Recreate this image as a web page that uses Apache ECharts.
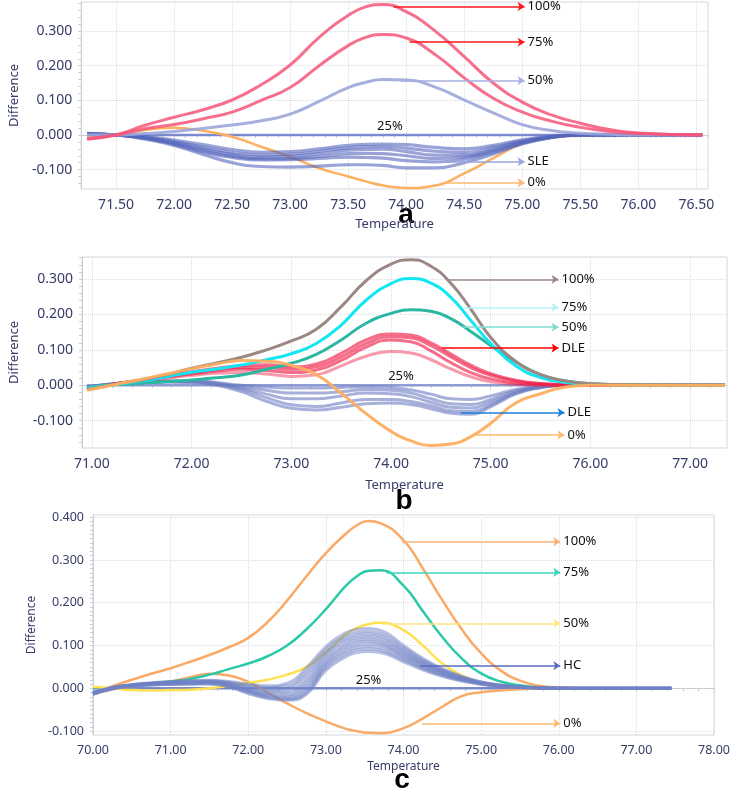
<!DOCTYPE html>
<html><head><meta charset="utf-8">
<script src="https://cdn.jsdelivr.net/npm/echarts@6/dist/echarts.min.js"></script>
<style>html,body{margin:0;padding:0;background:#fff}#c{width:733px;height:792px}</style>
</head><body><div id="c"></div>
<script>
// ---------- Panel a ----------
const A_X = [71.25,71.5,71.75,72.0,72.25,72.5,72.75,73.0,73.25,73.5,73.65,73.8,74.0,74.25,74.5,74.75,75.0,75.25,75.5,75.75,76.0,76.55];
const A_100 = [-0.012,0,0.028,0.051,0.073,0.101,0.145,0.202,0.282,0.345,0.37,0.377,0.356,0.3,0.226,0.15,0.095,0.058,0.034,0.016,0.006,0];
const A_75 = [-0.01,0,0.018,0.03,0.047,0.066,0.1,0.137,0.2,0.258,0.282,0.29,0.28,0.232,0.165,0.106,0.066,0.04,0.022,0.01,0.004,0];
const A_50 = [0,0,0.004,0.01,0.019,0.029,0.041,0.06,0.097,0.137,0.152,0.16,0.159,0.138,0.101,0.064,0.03,0.013,0.005,0.002,0,0];
const A_25 = [0,0,0,0,0,0,0,0,0,0,0,0,0,0,0,0,0,0,0,0,0,0];
const A_0 = [-0.008,0,0.014,0.021,0.012,-0.005,-0.034,-0.063,-0.096,-0.12,-0.134,-0.146,-0.153,-0.146,-0.111,-0.067,-0.025,-0.008,-0.002,0,0,0];
const A_SLE1 = [0.002,0,-0.005,-0.015,-0.028,-0.042,-0.05,-0.048,-0.04,-0.03,-0.027,-0.026,-0.028,-0.036,-0.04,-0.03,-0.014,-0.004,0,0,0,0];
const A_SLE2 = [0.002,0,-0.006,-0.019,-0.035,-0.05,-0.058,-0.056,-0.047,-0.037,-0.034,-0.033,-0.038,-0.047,-0.05,-0.036,-0.017,-0.005,0,0,0,0];
const A_SLE3 = [0.003,0,-0.008,-0.022,-0.04,-0.056,-0.064,-0.062,-0.054,-0.044,-0.042,-0.041,-0.048,-0.058,-0.058,-0.042,-0.02,-0.006,0,0,0,0];
const A_SLE4 = [0.003,0,-0.009,-0.025,-0.045,-0.061,-0.069,-0.068,-0.062,-0.054,-0.053,-0.054,-0.06,-0.068,-0.064,-0.046,-0.022,-0.006,0,0,0,0];
const A_SLE5 = [0.004,0,-0.01,-0.027,-0.049,-0.065,-0.072,-0.071,-0.068,-0.064,-0.065,-0.067,-0.074,-0.078,-0.07,-0.05,-0.024,-0.007,0,0,0,0];
const A_SLE6 = [0.005,0,-0.012,-0.03,-0.056,-0.08,-0.091,-0.093,-0.09,-0.086,-0.086,-0.088,-0.095,-0.095,-0.08,-0.055,-0.026,-0.008,0,0,0,0];
const A_XTICKS = [71.5,72.0,72.5,73.0,73.5,74.0,74.5,75.0,75.5,76.0,76.5];
const A_YTICKS = [-0.1,0,0.1,0.2,0.3];

// ---------- Panel b ----------
const B_X = [70.95,71.25,71.5,71.75,72.0,72.25,72.5,72.75,73.0,73.25,73.5,73.75,74.0,74.2,74.4,74.6,74.8,75.0,75.25,75.5,75.75,76.0,76.5,77.35];
const B_100 = [-0.012,0.004,0.015,0.03,0.048,0.063,0.079,0.1,0.125,0.158,0.222,0.295,0.342,0.354,0.336,0.288,0.215,0.135,0.068,0.03,0.012,0.004,0.001,0];
const B_75 = [-0.008,0.003,0.012,0.024,0.037,0.046,0.057,0.072,0.089,0.118,0.17,0.24,0.287,0.301,0.288,0.248,0.183,0.118,0.055,0.022,0.008,0.003,0,0];
const B_50 = [-0.006,0.002,0.006,0.01,0.015,0.021,0.029,0.045,0.062,0.087,0.128,0.175,0.203,0.213,0.209,0.188,0.152,0.112,0.066,0.03,0.012,0.004,0.001,0];
const B_25 = [0,0,0,0,0,0,0,0,0,0,0,0,0,0,0,0,0,0,0,0,0,0,0,0];
const B_0 = [-0.014,0.003,0.017,0.032,0.047,0.06,0.07,0.068,0.056,0.03,-0.022,-0.08,-0.13,-0.157,-0.17,-0.166,-0.145,-0.107,-0.05,-0.024,-0.005,0,0,0];
const B_DLER1 = [-0.012,0.005,0.015,0.027,0.038,0.048,0.056,0.058,0.052,0.06,0.09,0.128,0.145,0.142,0.12,0.088,0.057,0.033,0.014,0.005,0.002,0,0,0];
const B_DLER2 = [-0.012,0.005,0.014,0.025,0.035,0.044,0.05,0.05,0.045,0.052,0.08,0.118,0.137,0.134,0.112,0.08,0.05,0.028,0.012,0.004,0.001,0,0,0];
const B_DLER3 = [-0.012,0.004,0.013,0.023,0.032,0.04,0.045,0.042,0.036,0.043,0.07,0.108,0.128,0.123,0.097,0.064,0.036,0.018,0.006,0.002,0,0,0,0];
const B_DLER4 = [-0.01,0.004,0.012,0.02,0.028,0.034,0.036,0.032,0.025,0.03,0.055,0.082,0.095,0.091,0.072,0.046,0.024,0.01,0.003,0,0,0,0,0];
const B_DLEB1 = [-0.005,0.005,0.01,0.012,0.012,0.008,0,-0.005,-0.008,-0.008,-0.006,-0.004,-0.006,-0.013,-0.025,-0.038,-0.04,-0.03,-0.012,-0.003,0,0,0,0];
const B_DLEB2 = [-0.005,0.005,0.01,0.012,0.012,0.006,-0.004,-0.014,-0.022,-0.022,-0.018,-0.012,-0.014,-0.022,-0.038,-0.052,-0.054,-0.04,-0.016,-0.004,0,0,0,0];
const B_DLEB3 = [-0.005,0.005,0.01,0.011,0.01,0.004,-0.008,-0.025,-0.038,-0.038,-0.03,-0.022,-0.024,-0.032,-0.048,-0.062,-0.064,-0.048,-0.02,-0.005,0,0,0,0];
const B_DLEB4 = [-0.006,0.004,0.009,0.01,0.009,0.002,-0.012,-0.035,-0.055,-0.06,-0.05,-0.04,-0.04,-0.046,-0.058,-0.072,-0.074,-0.055,-0.022,-0.006,0,0,0,0];
const B_DLEB5 = [-0.006,0.004,0.008,0.009,0.008,0,-0.018,-0.045,-0.065,-0.07,-0.062,-0.052,-0.05,-0.054,-0.066,-0.079,-0.082,-0.06,-0.025,-0.007,0,0,0,0];
const B_XTICKS = [71,72,73,74,75,76,77];
const B_YTICKS = [-0.1,0,0.1,0.2,0.3];

// ---------- Panel c ----------
const C_X = [70.0,70.25,70.5,70.75,71.0,71.25,71.5,71.75,72.0,72.25,72.5,72.75,73.0,73.25,73.4,73.55,73.7,74.0,74.25,74.5,74.75,75.0,75.25,75.5,75.75,76.0,76.5,77.45];
const C_100 = [-0.012,0.005,0.02,0.034,0.047,0.062,0.078,0.096,0.118,0.155,0.205,0.262,0.316,0.36,0.381,0.391,0.386,0.346,0.28,0.206,0.138,0.082,0.042,0.018,0.006,0.002,0,0];
const C_75 = [-0.008,0.002,0.008,0.012,0.016,0.022,0.032,0.045,0.058,0.075,0.1,0.138,0.185,0.238,0.262,0.275,0.276,0.24,0.18,0.12,0.07,0.035,0.016,0.007,0.002,0,0,0];
const C_50 = [0.004,0,-0.004,-0.005,-0.004,-0.003,0,0.006,0.013,0.02,0.032,0.05,0.085,0.125,0.141,0.15,0.153,0.136,0.1,0.058,0.03,0.012,0.005,0.002,0,0,0,0];
const C_25 = [0,0,0,0,0,0,0,0,0,0,0,0,0,0,0,0,0,0,0,0,0,0,0,0,0,0,0,0];
const C_0 = [-0.014,-0.002,0.005,0.01,0.016,0.026,0.034,0.03,0.015,-0.01,-0.035,-0.058,-0.077,-0.094,-0.1,-0.104,-0.105,-0.093,-0.07,-0.043,-0.018,-0.009,-0.005,-0.002,0,0,0,0];
const C_HC1 = [-0.010,0.002,0.009,0.013,0.016,0.018,0.019,0.016,0.010,0.006,0.012,0.048,0.097,0.129,0.138,0.140,0.136,0.100,0.070,0.046,0.028,0.015,0.008,0.0035,0.0014,0.0006,0,0];
const C_HC2 = [-0.010,0.002,0.008,0.012,0.015,0.017,0.018,0.014,0.007,0.002,0.006,0.040,0.090,0.122,0.131,0.133,0.129,0.095,0.066,0.044,0.027,0.015,0.007,0.003,0.001,0,0,0];
const C_HC3 = [-0.011,0.001,0.008,0.012,0.014,0.016,0.017,0.013,0.004,-0.003,0.000,0.032,0.083,0.116,0.125,0.127,0.123,0.090,0.063,0.042,0.025,0.014,0.007,0.003,0.001,0,0,0];
const C_HC4 = [-0.011,0.001,0.007,0.011,0.013,0.015,0.016,0.011,0.001,-0.007,-0.006,0.023,0.077,0.110,0.119,0.121,0.117,0.086,0.060,0.040,0.024,0.013,0.006,0.003,0.001,0,0,0];
const C_HC5 = [-0.012,0.001,0.007,0.010,0.012,0.014,0.015,0.010,-0.002,-0.011,-0.011,0.015,0.070,0.103,0.113,0.115,0.111,0.082,0.057,0.038,0.023,0.012,0.006,0.003,0.001,0,0,0];
const C_HC6 = [-0.012,0.000,0.006,0.010,0.012,0.013,0.014,0.008,-0.004,-0.014,-0.016,0.008,0.064,0.097,0.108,0.110,0.106,0.078,0.055,0.036,0.022,0.012,0.006,0.002,0.001,0,0,0];
const C_HC7 = [-0.013,0.000,0.006,0.009,0.011,0.012,0.013,0.007,-0.006,-0.017,-0.020,0.001,0.058,0.091,0.102,0.104,0.101,0.074,0.052,0.034,0.021,0.011,0.005,0.002,0.001,0,0,0];
const C_HC8 = [-0.013,-0.001,0.005,0.009,0.010,0.011,0.012,0.005,-0.008,-0.019,-0.023,-0.005,0.053,0.085,0.096,0.098,0.095,0.070,0.049,0.032,0.020,0.011,0.005,0.002,0.001,0,0,0];
const C_HC9 = [-0.014,-0.001,0.005,0.008,0.009,0.010,0.011,0.004,-0.010,-0.022,-0.026,-0.010,0.048,0.079,0.090,0.092,0.089,0.066,0.046,0.030,0.018,0.010,0.005,0.002,0.001,0,0,0];
const C_HC10 = [-0.014,-0.001,0.004,0.008,0.009,0.010,0.010,0.003,-0.012,-0.024,-0.028,-0.014,0.042,0.073,0.084,0.086,0.084,0.062,0.043,0.028,0.017,0.009,0.004,0.002,0.001,0,0,0];
const C_XTICKS = [70,71,72,73,74,75,76,77,78];
const C_YTICKS = [-0.1,0,0.1,0.2,0.3,0.4];

// ---------- styling / layout ----------
const FONT = 'Noto Sans';
const NAVY = '#363c68';
const AXC = '#c9cdd5';
const GRIDC = '#d9dde4';

function pts(xs, ys){ return xs.map((x,i)=>[x, ys[i]]); }
function steps(a,b,s){ const r=[]; const n=Math.floor((b-a)/s+1e-9); for(let i=0;i<=n;i++) r.push(Math.round((a+i*s)*1000)/1000); return r; }

const grids = [
  {left:73, top:2, width:635, height:187},
  {left:78, top:257, width:649, height:191},
  {left:93, top:515, width:621, height:220}
].map(g=>Object.assign(g,{show:true, borderColor:'#d3d7de', borderWidth:1, backgroundColor:'transparent'}));

const P = [
  {xmin:71.2, xmax:76.6, ymin:-0.156, ymax:0.384, xt:A_XTICKS, yt:A_YTICKS, fs:14, nfs:13, ygap:58, xgap:29, xminor:0.1, yminor:0.02},
  {xmin:70.9, xmax:77.37, ymin:-0.177, ymax:0.362, xt:B_XTICKS, yt:B_YTICKS, fs:14, nfs:13, ygap:61, xgap:31, xminor:0.2, yminor:0.02},
  {xmin:70, xmax:78, ymin:-0.109, ymax:0.405, xt:C_XTICKS, yt:C_YTICKS, fs:12.5, nfs:12, ygap:51, xgap:26, xminor:0.2, yminor:0.01}
];

const xAxes = [], yAxes = [];
P.forEach((p,gi)=>{
  xAxes.push({type:'value', gridIndex:gi, min:p.xmin, max:p.xmax,
    name:'Temperature', nameLocation:'middle', nameGap:p.xgap,
    nameTextStyle:{fontSize:p.nfs, color:NAVY, fontFamily:FONT},
    axisLine:{show:true, lineStyle:{color:AXC}},
    axisTick:{show:true, length:3, customValues:p.xt, lineStyle:{color:AXC}},
    axisLabel:{customValues:p.xt, formatter:v=>Number(v).toFixed(2), fontSize:p.fs, color:NAVY, margin:9, fontFamily:FONT},
    splitLine:{show:true, lineStyle:{color:GRIDC, type:'dotted', width:1}}});
  yAxes.push({type:'value', gridIndex:gi, min:p.ymin, max:p.ymax,
    name:'Difference', nameLocation:'middle', nameGap:p.ygap, nameRotate:90,
    nameTextStyle:{fontSize:p.nfs, color:NAVY, fontFamily:FONT},
    axisLine:{show:true, lineStyle:{color:AXC}},
    axisTick:{show:true, length:3, customValues:p.yt, lineStyle:{color:AXC}},
    axisLabel:{customValues:p.yt, formatter:v=>Number(v).toFixed(3), fontSize:p.fs, color:NAVY, margin:9, fontFamily:FONT},
    splitLine:{show:true, lineStyle:{color:GRIDC, type:'dotted', width:1}}});
});
P.forEach((p,gi)=>{
  xAxes.push({type:'value', gridIndex:gi, min:p.xmin, max:p.xmax, position:'bottom',
    axisLine:{show:false}, axisLabel:{show:false}, splitLine:{show:false},
    axisTick:{show:true, length:3, customValues:steps(Math.ceil(p.xmin/p.xminor-1e-9)*p.xminor, p.xmax, p.xminor), lineStyle:{color:AXC}}});
  yAxes.push({type:'value', gridIndex:gi, min:p.ymin, max:p.ymax, position:'left',
    axisLine:{show:false}, axisLabel:{show:false}, splitLine:{show:false},
    axisTick:{show:true, length:3, customValues:steps(Math.ceil(p.ymin/p.yminor-1e-9)*p.yminor, p.ymax, p.yminor), lineStyle:{color:AXC}}});
});

const series = [];
function line(gi, xs, ys, color, width, opacity, extra){
  const s = {type:'line', xAxisIndex:gi, yAxisIndex:gi, data:pts(xs,ys), smooth:0.5, showSymbol:false, symbol:'none',
    silent:true, animation:false, lineStyle:{color, width, opacity}, z:2};
  if (extra) Object.assign(s, extra);
  series.push(s);
}
function arrow(text, x1, x2, y, color){
  return {silent:true, symbol:['none','arrow'], symbolSize:7, animation:false,
    lineStyle:{color, width:1.5, type:'solid', opacity:1},
    label:{show:true, position:'end', formatter:text, color:'#111', fontSize:13, fontFamily:FONT, distance:3},
    data:[[{coord:[x1,y]},{coord:[x2,y]}]]};
}
function txt(text, x, y){
  return {silent:true, symbol:'circle', symbolSize:1, itemStyle:{color:'rgba(0,0,0,0)'},
    label:{show:true, position:'inside', formatter:text, color:'#111', fontSize:13, fontFamily:FONT},
    data:[{coord:[x,y]}]};
}

// Panel a
line(0, A_X, A_25, '#6f81cb', 2.5, 0.9, {markPoint:txt('25%',73.86,0.026)});
line(0, A_X, A_0, '#fdb062', 2.5, 1, {markLine:arrow('0%',74.32,75.02,-0.138,'#ffb870')});
[A_SLE1,A_SLE2,A_SLE3,A_SLE4,A_SLE5,A_SLE6].forEach((d,i)=>line(0, A_X, d, '#5566bd', 3.2, 0.6,
  i===5?{markLine:arrow('SLE',74.3,75.02,-0.077,'#9aa5dc')}:null));
line(0, A_X, A_50, '#9ca6da', 3, 0.9, {markLine:arrow('50%',73.95,75.02,0.157,'#a6afe0')});
line(0, A_X, A_75, '#f4577a', 3, 0.85, {markLine:arrow('75%',74.03,75.02,0.268,'#ff1a1a')});
line(0, A_X, A_100, '#f4577a', 3, 0.85, {markLine:arrow('100%',73.89,75.02,0.371,'#ff1a1a')});

// Panel b
line(1, B_X, B_25, '#8494d0', 2.5, 0.9, {markPoint:txt('25%',74.1,0.024)});
[B_DLEB1,B_DLEB2,B_DLEB3,B_DLEB4,B_DLEB5].forEach((d,i)=>line(1, B_X, d, '#6a7bc2', 3, 0.6,
  i===4?{markLine:arrow('DLE',74.7,75.74,-0.077,'#1e7fd8')}:null));
[B_DLER1,B_DLER2,B_DLER3,B_DLER4].forEach((d,i)=>line(1, B_X, d, '#f01e48', 3, i===3?0.45:0.65,
  i===0?{markLine:arrow('DLE',74.51,75.68,0.105,'#ff0000')}:null));
line(1, B_X, B_50, '#2bb7a2', 3, 1, {markLine:arrow('50%',74.71,75.68,0.164,'#7fdbd0')});
line(1, B_X, B_75, '#12e6f2', 3, 1, {markLine:arrow('75%',74.74,75.68,0.22,'#b4f2f6')});
line(1, B_X, B_100, '#9b8884', 3, 1, {markLine:arrow('100%',74.56,75.68,0.299,'#9e8b86')});
line(1, B_X, B_0, '#fdae60', 3, 0.95, {markLine:arrow('0%',74.85,75.74,-0.14,'#ffb870')});

// Panel c
line(2, C_X, C_25, '#6d7fc8', 2.5, 0.9, {markPoint:txt('25%',73.55,0.019)});
line(2, C_X, C_0, '#f9aa66', 2.5, 1, {markLine:arrow('0%',74.24,76.02,-0.082,'#ffb870')});
line(2, C_X, C_100, '#f9aa66', 2.5, 1, {markLine:arrow('100%',73.98,76.02,0.3425,'#f9b077')});
line(2, C_X, C_75, '#2cc9a9', 2.5, 1, {markLine:arrow('75%',73.78,76.02,0.271,'#3dd6c0')});
line(2, C_X, C_50, '#ffe14f', 2.5, 1, {markLine:arrow('50%',73.74,76.02,0.152,'#ffe680')});
[C_HC1,C_HC2,C_HC3,C_HC4,C_HC5,C_HC6,C_HC7,C_HC8,C_HC9,C_HC10].forEach((d,i)=>line(2, C_X, d, '#7082c6', 3, 0.5,
  i===9?{markLine:arrow('HC',74.21,76.02,0.053,'#5a6cc0')}:null));

const chart = echarts.init(document.getElementById('c'), null, {renderer:'canvas'});
chart.setOption({
  animation:false,
  backgroundColor:'#ffffff',
  grid:grids,
  xAxis:xAxes,
  yAxis:yAxes,
  series:series,
  graphic:[
    {type:'text', x:406, y:229, style:{text:'a', font:'bold 28px "Liberation Sans"', align:'center', verticalAlign:'bottom', fill:'#000'}},
    {type:'text', x:404, y:515, style:{text:'b', font:'bold 28px "Liberation Sans"', align:'center', verticalAlign:'bottom', fill:'#000'}},
    {type:'text', x:402, y:794, style:{text:'c', font:'bold 28px "Liberation Sans"', align:'center', verticalAlign:'bottom', fill:'#000'}}
  ]
});
</script></body></html>
